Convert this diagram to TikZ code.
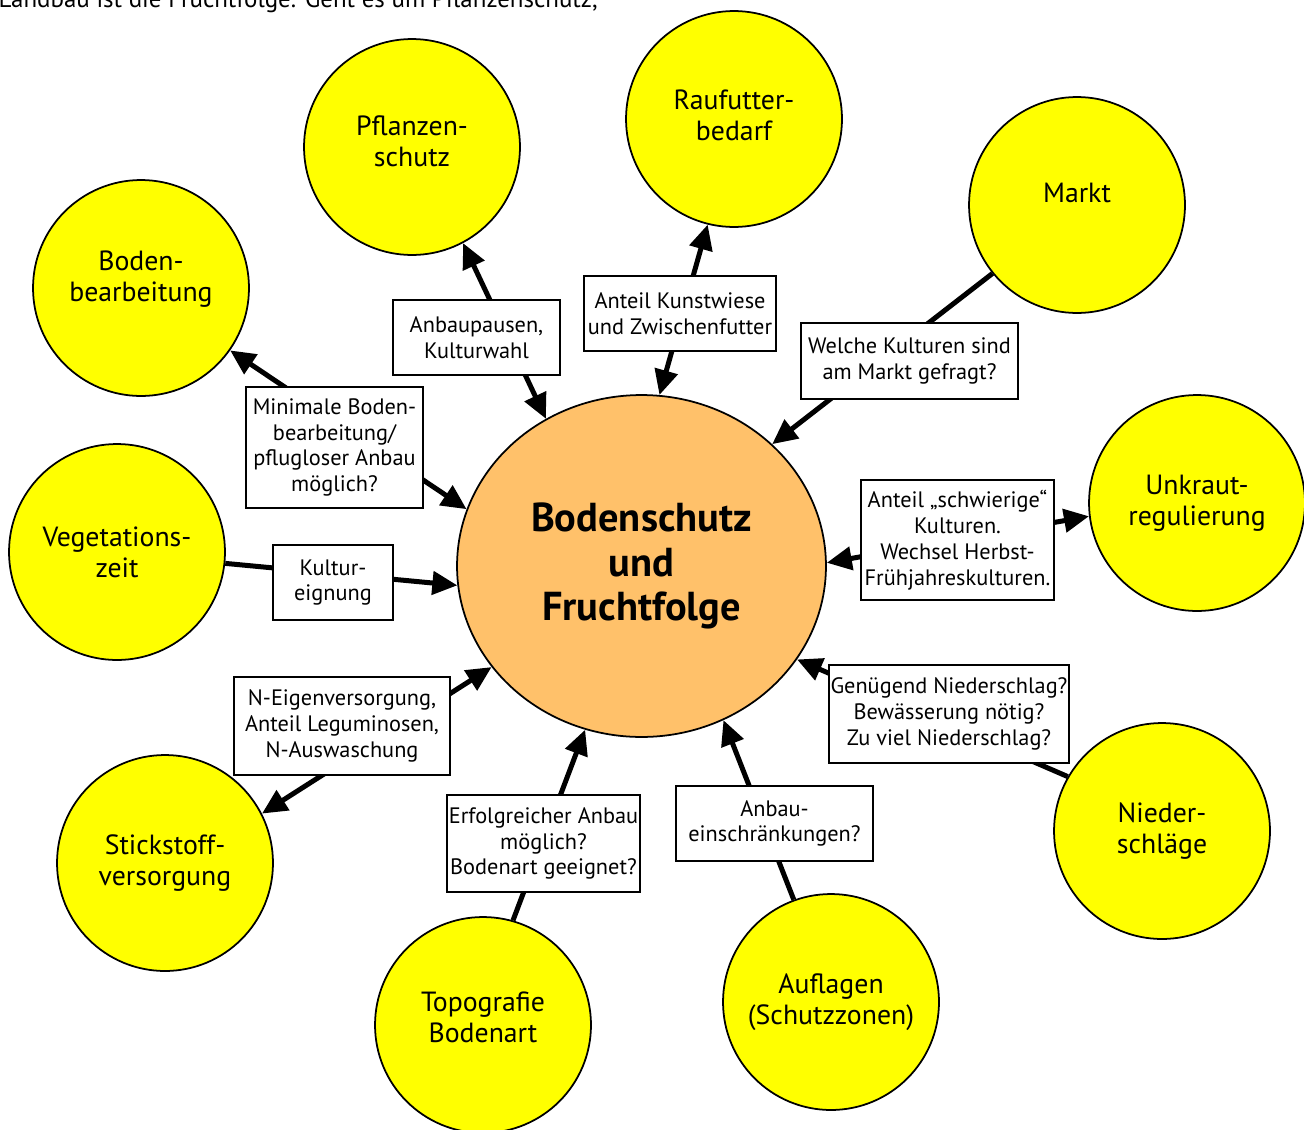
\documentclass[tikz,border=0pt]{standalone}
\usepackage{fontspec}
\setmainfont{PT Sans}
\usetikzlibrary{arrows.meta,shapes.geometric}

\definecolor{topicyellow}{RGB}{255,255,0}
\definecolor{coreorange}{RGB}{255,193,106}

\tikzset{
  topic/.style={circle, draw, line width=1pt, fill=topicyellow, minimum size=4.32cm,
    inner sep=0pt, align=center, font=\fontsize{15.8}{17.6}\selectfont},
  note/.style={draw, fill=white, line width=0.8pt, align=center, inner sep=0pt,
    font=\fontsize{12.7}{14.7}\selectfont},
  link/.style={line width=0.1cm, -{Triangle[length=0.5cm,width=0.46cm]}},
  both/.style={link, {Triangle[length=0.5cm,width=0.46cm]}-{Triangle[length=0.5cm,width=0.46cm]}},
}

\begin{document}
\begin{tikzpicture}[x=0.02cm, y=-0.02cm]
\clip (0,0) rectangle (1304,1129);

% running text, cut at the top
\node[anchor=base east, inner sep=0pt, font=\fontsize{14.2}{17}\selectfont] (runin)
    at (598,8) {Landbau ist die Fruchtfolge. Geht es um Pflanzenschutz,};

% centre
\node[ellipse, draw, line width=1pt, fill=coreorange, minimum width=7.38cm,
    minimum height=6.84cm, inner sep=0pt, align=center,
    font=\bfseries\fontsize{23}{25.5}\selectfont] (main) at (641.5,566)
    {Bodenschutz\\und\\Fruchtfolge};

% topics round the centre (trailing \\[..] lifts the text a little)
\node[topic] (bodb)  at (141,288)  {Boden-\\bearbeitung\\[-4pt]};
\node[topic] (psch)  at (412,147)  {Pflanzen-\\schutz\\[-10.8pt]};
\node[topic] (rauf)  at (734,119)  {Raufutter-\\bedarf\\[-13pt]};
\node[topic] (markt) at (1077,205) {Markt\\[-4pt]};
\node[topic] (unkr)  at (1197,503) {Unkraut-\\regulierung};
\node[topic] (nied)  at (1162,831) {Nieder-\\schläge};
\node[topic] (aufl)  at (831,1002) {Auflagen\\(Schutzzonen)};
\node[topic] (topo)  at (483,1025) {Topografie\\Bodenart\\[-8.5pt]};
\node[topic] (stick) at (165,863)  {Stickstoff-\\versorgung};
\node[topic] (veg)   at (117,552)  {Vegetations-\\zeit};

% links
\draw[both] (main.162.6) -- (bodb.-35);
\draw[both] (main.123.6) -- (psch.-62.5);
\draw[both] (main.84.6) -- (rauf.-104.9);
\draw[link] (markt.219.8) -- (main.43.5);
\draw[both] (main.1.2) -- (unkr.187.5);
\draw[link] (nied.150.8) -- (main.-31);
\draw[link] (aufl.110.9) -- (main.-62.7);
\draw[link] (topo.74) -- (main.-109.3);
\draw[both] (main.214.3) -- (stick.27.5);
\draw[link] (veg.-6.9) -- (main.186.5);

% notes on the links
\node[note, minimum width=3.54cm, minimum height=2.42cm] (nBod) at (334.5,447.5)
    {Minimale Boden-\\bearbeitung/\\pflugloser Anbau\\möglich?};
\node[note, minimum width=3.34cm, minimum height=1.5cm] (nPsch) at (476.5,337.5)
    {Anbaupausen,\\Kulturwahl};
\node[note, minimum width=3.84cm, minimum height=1.5cm] (nRauf) at (680,313.5)
    {Anteil Kunstwiese\\und Zwischenfutter};
\node[note, minimum width=4.34cm, minimum height=1.52cm] (nMarkt) at (909.5,361)
    {Welche Kulturen sind\\am Markt gefragt?};
\node[note, minimum width=3.86cm, minimum height=2.4cm] (nUnkr) at (957.5,540)
    {Anteil „schwierige“\\Kulturen.\\Wechsel Herbst-\\Frühjahreskulturen.};
\node[note, minimum width=4.8cm, minimum height=1.96cm] (nNied) at (949,714)
    {Genügend Niederschlag?\\Bewässerung nötig?\\Zu viel Niederschlag?};
\node[note, minimum width=3.94cm, minimum height=1.5cm] (nAufl) at (774.5,823.5)
    {Anbau-\\einschränkungen?};
\node[note, minimum width=3.86cm, minimum height=1.94cm] (nTopo) at (543.5,843.5)
    {Erfolgreicher Anbau\\möglich?\\Bodenart geeignet?};
\node[note, minimum width=4.32cm, minimum height=1.96cm] (nStick) at (342,726)
    {N-Eigenversorgung,\\Anteil Leguminosen,\\N-Auswaschung};
\node[note, minimum width=2.4cm, minimum height=1.5cm] (nVeg) at (333,582.5)
    {Kultur-\\eignung};
\end{tikzpicture}
\end{document}
